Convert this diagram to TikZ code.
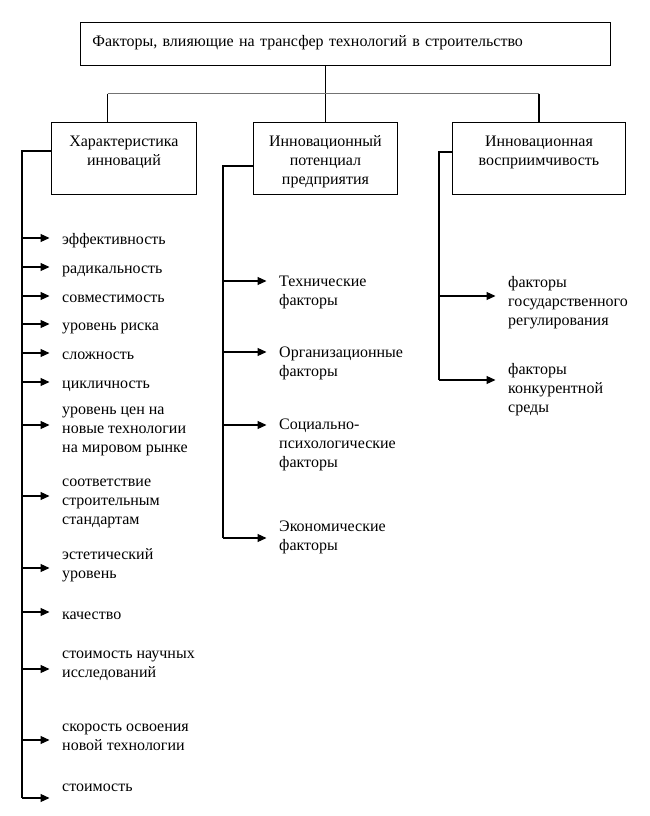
\documentclass[tikz,border=0pt]{standalone}
\usepackage{fontspec}
\setmainfont{Liberation Serif}
\usetikzlibrary{arrows.meta}
\newcommand{\topln}{\rule{0pt}{18pt}}
\newcommand{\botln}{\rule[-4.7pt]{0pt}{13.3pt}}
\tikzset{
  basefont/.style={font=\fontsize{16}{19}\selectfont},
  txt/.style={basefont, inner sep=0pt, anchor=west, align=left, yshift=-2.5pt,
    execute at begin node=\strut, execute at end node=\strut},
  hbox/.style={draw, line width=0.9pt, basefont, align=center, anchor=north west,
    inner xsep=0pt, inner ysep=5.65pt},
  topbox/.style={draw, line width=0.9pt, basefont, align=left, anchor=north west,
    text width=506pt, inner xsep=12pt, inner ysep=7.3pt, text height=16.3pt, text depth=12.1pt},
  conn/.style={line width=1.1pt, black},
  bus/.style={line width=1.5pt, black!55},
  arr/.style={conn, -{Triangle[length=9pt,width=8pt]}, shorten >=12.5pt},
}
\begin{document}
\begin{tikzpicture}[x=1pt,y=-1pt]
\useasboundingbox (0,0) rectangle (649,816);

\node[topbox] (top) at (80,22) {Факторы, влияющие на трансфер технологий в строительство};

\node[hbox, text width=145pt] (b1) at (51,122) {\topln Характеристика\\\strut инноваций\\\botln};
\node[hbox, text width=144pt] (b2) at (253,122) {\topln Инновационный\\\strut потенциал\\\botln предприятия};
\node[hbox, text width=173pt] (b3) at (452,122) {\topln Инновационная\\\strut восприимчивость\\\botln};

% top-level connectors
\coordinate (busL) at (107.5,93.5);
\coordinate (busR) at (539,93.5);
\draw[conn] (b2.north |- top.south) -- (b2.north);
\draw[bus] (busL) -- (busR);
\draw[conn] (busL) -- (busL |- b1.north);
\draw[conn] (busR) -- (busR |- b3.north);

% left column
\foreach \i/\ty/\ay/\t in {
  1/238/238/{эффективность},
  2/267/267/{радикальность},
  3/296/296/{совместимость},
  4/324/324/{уровень риска},
  5/353/353/{сложность},
  6/382/382/{цикличность},
  7/430/425/{уровень цен на\\новые технологии\\на мировом рынке},
  8/502/496/{соответствие\\строительным\\стандартам},
  9/563.5/568/{эстетический\\уровень},
  10/613/612/{качество},
  11/665/669/{стоимость научных\\исследований},
  12/737.5/740/{скорость освоения\\новой технологии},
  13/785/798/{стоимость}}
{
  \node[txt] (l\i) at (62,\ty) {\t};
  \coordinate (la\i) at (22,\ay);
  \draw[arr] (la\i) -- (la\i -| l\i.west);
}
\coordinate (k1) at (22,151);
\draw[conn] (k1 -| b1.west) -- (k1) -- (la13);

% middle column
\foreach \i/\ty/\ay/\t in {
  1/291.5/281/{Технические\\факторы},
  2/362.5/352/{Организационные\\факторы},
  3/444/425/{Социально-\\психологические\\факторы},
  4/536.5/538/{Экономические\\факторы}}
{
  \node[txt] (m\i) at (279,\ty) {\t};
  \coordinate (ma\i) at (223,\ay);
  \draw[arr] (ma\i) -- (ma\i -| m\i.west);
}
\coordinate (k2) at (223,166);
\draw[conn] (k2 -| b2.west) -- (k2) -- (ma4);

% right column
\foreach \i/\ty/\ay/\t in {
  1/301/296/{факторы\\государственного\\регулирования},
  2/388/380/{факторы\\конкурентной\\среды}}
{
  \node[txt] (r\i) at (508,\ty) {\t};
  \coordinate (ra\i) at (439,\ay);
  \draw[arr] (ra\i) -- (ra\i -| r\i.west);
}
\coordinate (k3) at (439,152);
\draw[conn] (k3 -| b3.west) -- (k3) -- (ra2);
\end{tikzpicture}
\end{document}
